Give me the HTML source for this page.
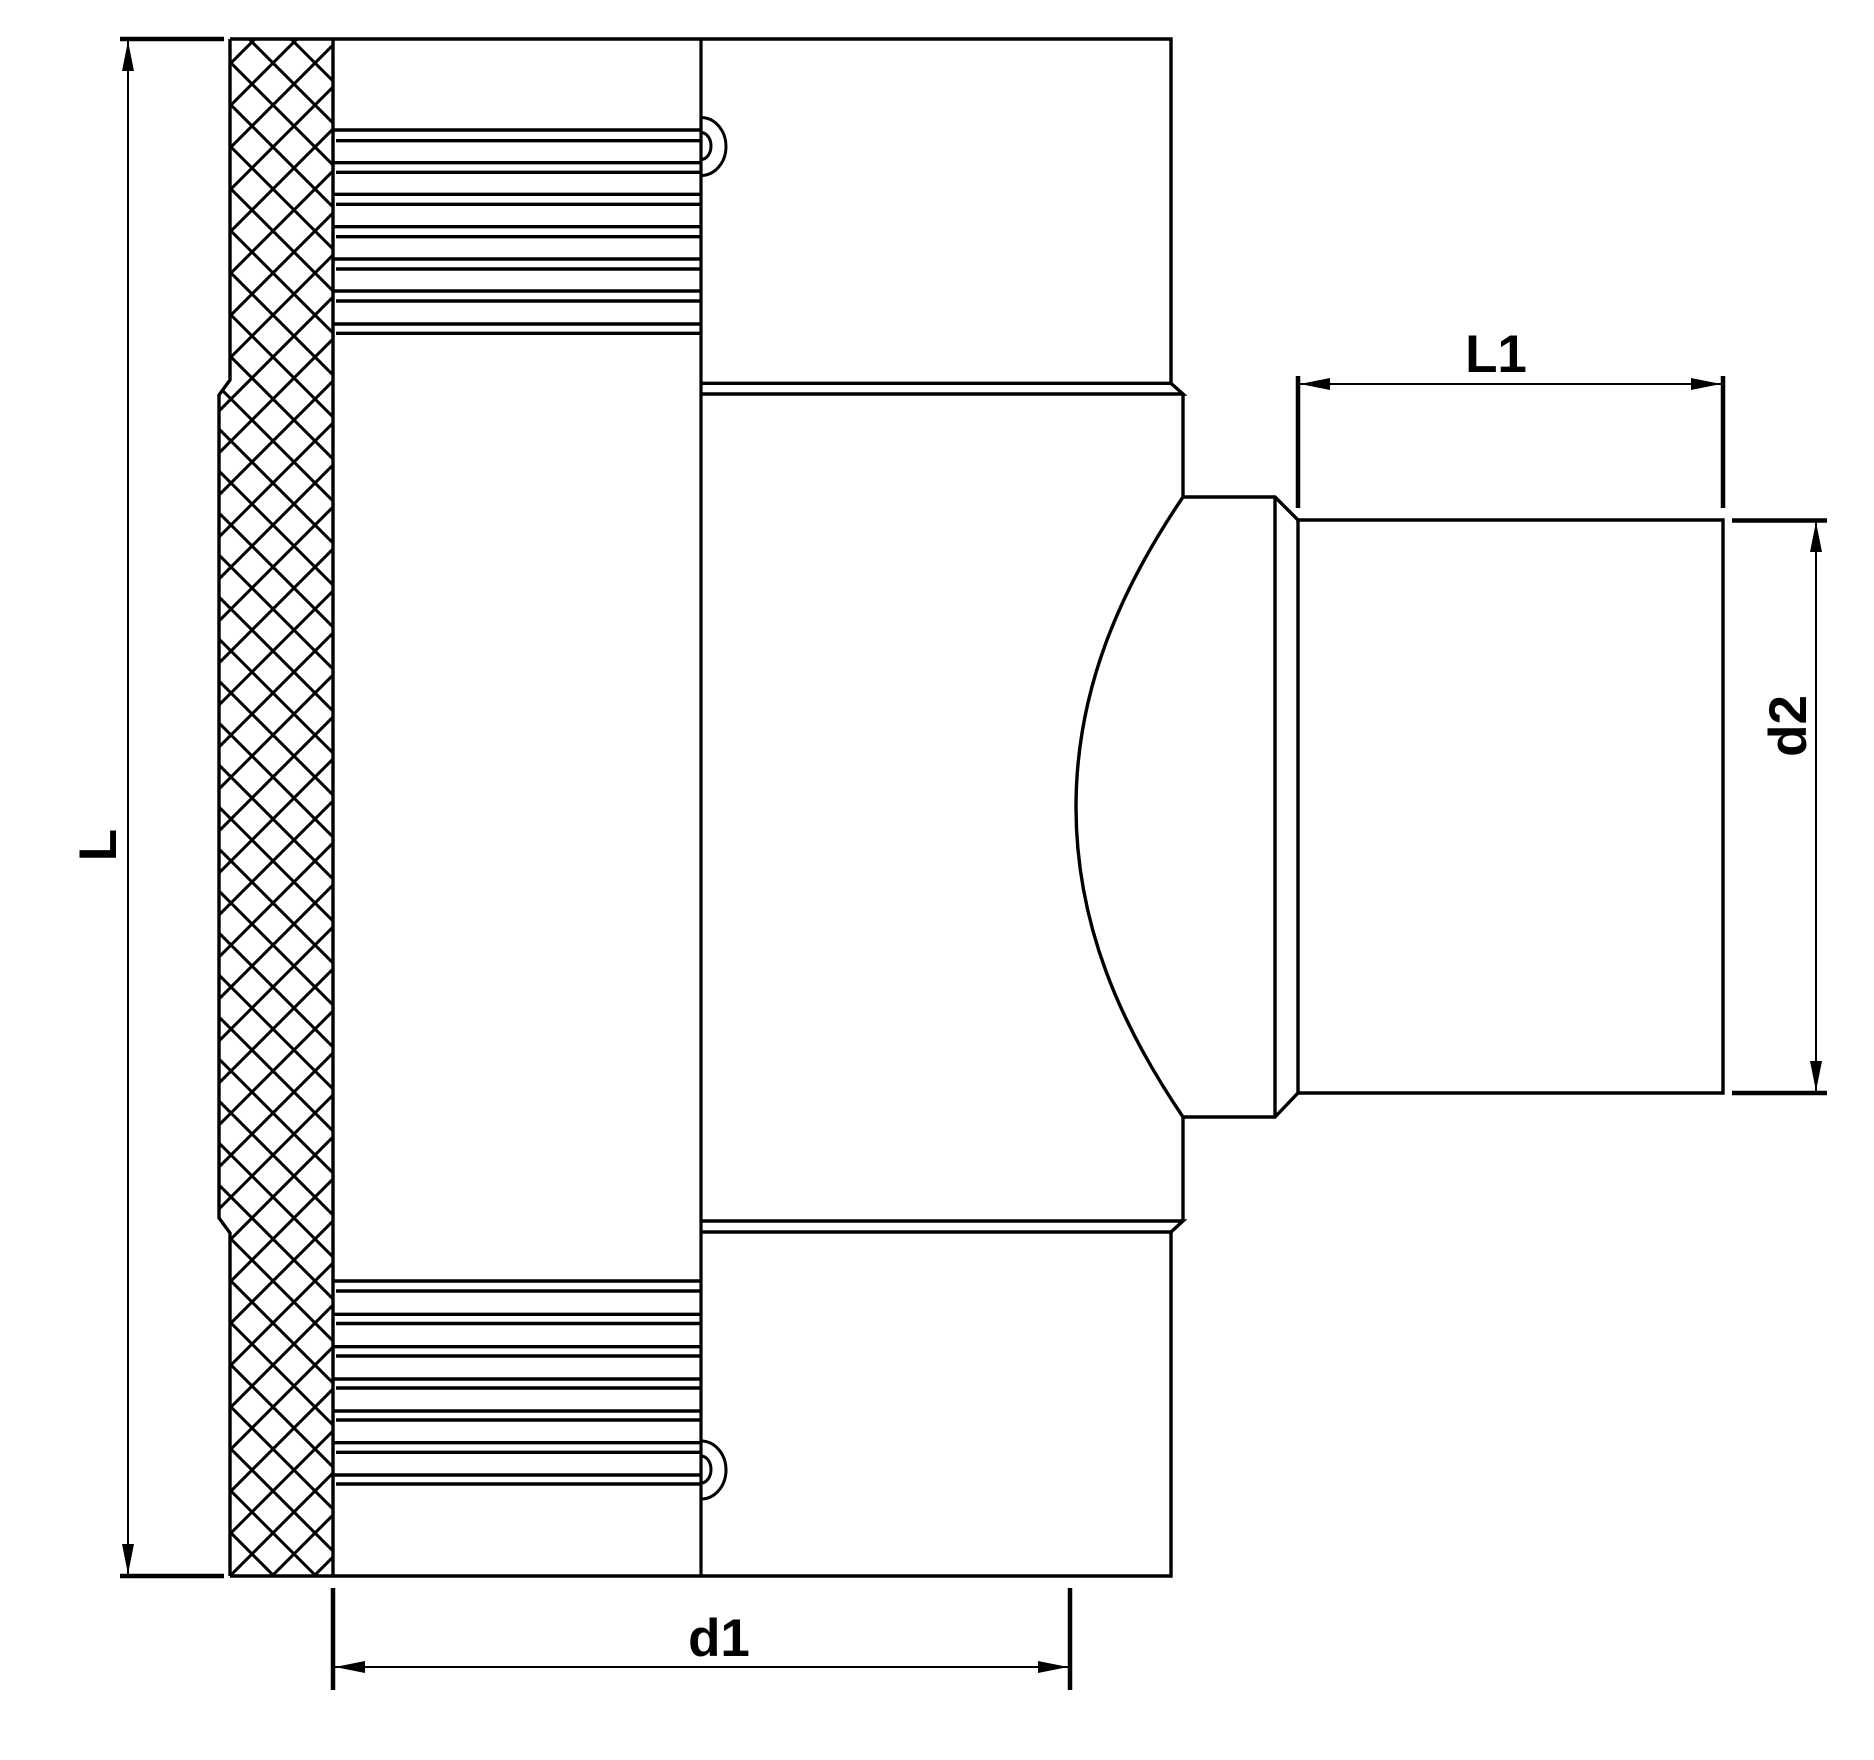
<!DOCTYPE html>
<html><head><meta charset="utf-8"><style>
html,body{margin:0;padding:0;background:#fff}
svg{display:block}
text{font-family:"Liberation Sans",sans-serif;font-weight:bold;fill:#000}
</style></head><body>
<svg width="1874" height="1760" viewBox="0 0 1874 1760" xmlns="http://www.w3.org/2000/svg">
<defs>
<pattern id="hx" patternUnits="userSpaceOnUse" width="42" height="42">
<path d="M-5,5 L5,-5 M0,42 L42,0 M37,47 L47,37 M-5,37 L5,47 M0,0 L42,42 M37,-5 L47,5" stroke="#000" stroke-width="3" fill="none"/>
</pattern>
<clipPath id="hc"><path d="M230,39 L333,39 L333,1576 L230,1576 L230,1233 L219,1218 L219,395 L230,380 Z"/></clipPath>
</defs>
<g fill="none" stroke="#000" stroke-linejoin="miter">
<rect x="200" y="30" width="140" height="1560" fill="url(#hx)" stroke="none" clip-path="url(#hc)"/>
<path d="M230,39 L230,380 L219,395 L219,1218 L230,1233 L230,1576" stroke-width="3.4"/>
<path d="M230,39 L1171,39 L1171,383.3" stroke-width="3.4"/>
<path d="M230,1576 L1171,1576 L1171,1232" stroke-width="3.4"/>
<line x1="333" y1="39" x2="333" y2="1576" stroke-width="3.4"/>
<line x1="701" y1="39" x2="701" y2="1576" stroke-width="3.2"/>
<g stroke-width="3.4">
<path d="M333,130 H701 M336,140.7 H701 M333,162.7 H701 M336,172.3 H701 M333,194.3 H701 M336,204.3 H701 M333,226.7 H701 M336,236.7 H701 M333,259 H701 M336,269 H701 M333,291 H701 M336,301 H701 M333,324 H701 M336,333.3 H701"/>
<path d="M333,1281 H701 M336,1291 H701 M333,1314.3 H701 M336,1323.5 H701 M333,1346.7 H701 M336,1356 H701 M333,1379 H701 M336,1388 H701 M333,1411 H701 M336,1420 H701 M333,1442.7 H701 M336,1452.3 H701 M333,1475 H701 M336,1484 H701"/>
</g>
<g stroke-width="3">
<path d="M701,117.5 A25,29 0 0 1 701,175.5"/>
<path d="M701,132.5 A10,13.5 0 0 1 701,159.5"/>
<path d="M701,1441 A25,29 0 0 1 701,1499"/>
<path d="M701,1456 A10,13.5 0 0 1 701,1483"/>
</g>
<g stroke-width="3.4">
<path d="M701,383.3 H1171 L1183,394 H701"/>
<path d="M701,1232 H1171 L1183,1221 H701"/>
<path d="M1183,394 V497 H1275 L1298,520 H1723 V1093 H1298 L1275,1117 H1183 V1221"/>
<line x1="1275" y1="497" x2="1275" y2="1117"/>
<line x1="1298" y1="520" x2="1298" y2="1093"/>
<path d="M1183,497 C1120,590 1076,690 1076,807 C1076,924 1120,1024 1183,1117"/>
</g>
<g stroke-width="4.5">
<path d="M120,39 H224 M120,1576 H224"/>
<path d="M333,1588 V1690 M1070,1588 V1690"/>
<path d="M1298,376 V508 M1723,376 V508"/>
<path d="M1732,520.5 H1827 M1732,1093 H1827"/>
</g>
<g stroke-width="2">
<line x1="128" y1="39" x2="128" y2="1576"/>
<line x1="333" y1="1667" x2="1070" y2="1667"/>
<line x1="1298" y1="384" x2="1723" y2="384"/>
<line x1="1816" y1="520" x2="1816" y2="1093"/>
</g>
</g>
<g fill="#000">
<path d="M128,41 L122,71 L134,71 Z"/>
<path d="M128,1574 L122,1544 L134,1544 Z"/>
<path d="M335,1667 L365,1661 L365,1673 Z"/>
<path d="M1068,1667 L1038,1661 L1038,1673 Z"/>
<path d="M1300,384 L1330,378 L1330,390 Z"/>
<path d="M1721,384 L1691,378 L1691,390 Z"/>
<path d="M1816,522 L1810,552 L1822,552 Z"/>
<path d="M1816,1091 L1810,1061 L1822,1061 Z"/>
</g>
<text x="719" y="1656" font-size="53" text-anchor="middle">d1</text>
<text x="1496" y="372" font-size="53" text-anchor="middle">L1</text>
<text transform="translate(116,845) rotate(-90)" font-size="53" text-anchor="middle">L</text>
<text transform="translate(1806,726) rotate(-90)" font-size="53" text-anchor="middle">d2</text>
</svg>
</body></html>
